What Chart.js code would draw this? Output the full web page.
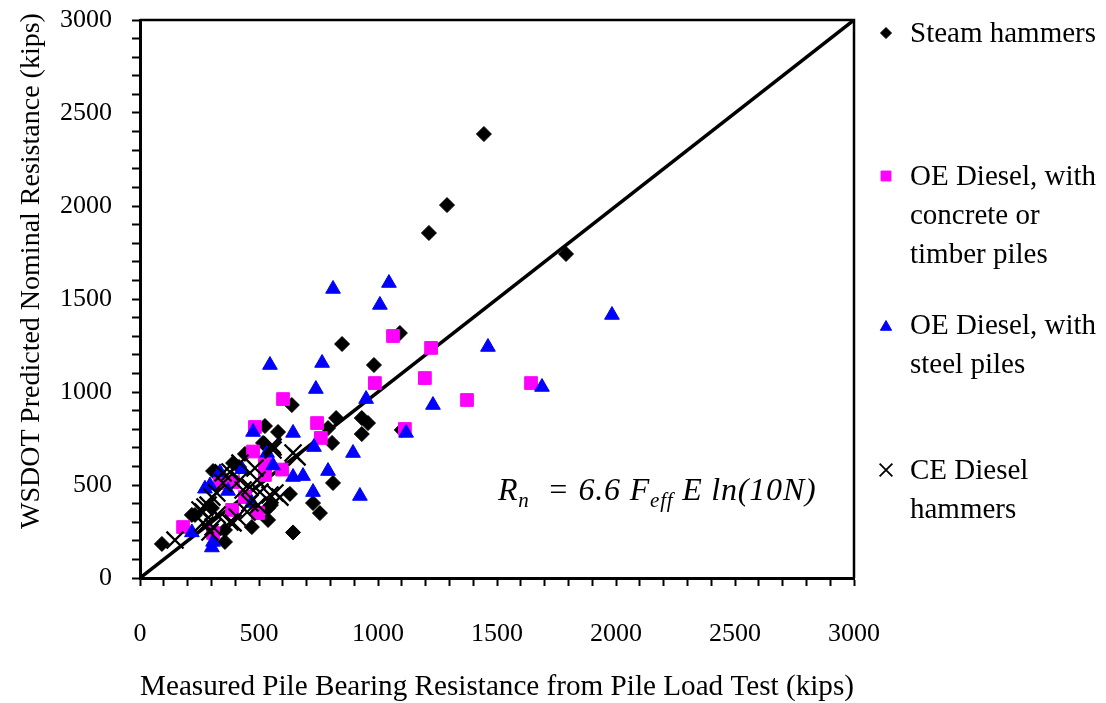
<!DOCTYPE html>
<html>
<head>
<meta charset="utf-8">
<script src="https://cdn.jsdelivr.net/npm/chart.js@4/dist/chart.umd.min.js"></script>
<style>
  body { margin: 0; background: #fff; }
  #wrap { position: relative; width: 1106px; height: 703px; font-family: "Liberation Serif", "Times New Roman", serif; color: #000; }
  #chart { position: absolute; left: 0; top: 0; }
  .lg { position: absolute; left: 910px; font-size: 29px; line-height: 39px; white-space: nowrap; }
  #ytitle { position: absolute; left: -270px; top: 256px; width: 600px; text-align: center; font-size: 28px; line-height: 30px; transform: rotate(-90deg); white-space: nowrap; }
  #eqn { position: absolute; left: 498px; top: 471px; font-size: 32px; letter-spacing: 0.8px; font-style: italic; white-space: nowrap; }
  #eqn sub { font-size: 21px; }
</style>
</head>
<body>
<div id="wrap">
  <canvas id="chart" width="1106" height="703"></canvas>
  <div id="ytitle">WSDOT Predicted Nominal Resistance (kips)</div>
  <div id="eqn">R<sub>n</sub>&nbsp; = 6.6 F<sub>eff</sub> E ln(10N)</div>
  <div class="lg" style="top:13px">Steam hammers</div>
  <div class="lg" style="top:156px">OE Diesel, with<br>concrete or<br>timber piles</div>
  <div class="lg" style="top:305px">OE Diesel, with<br>steel piles</div>
  <div class="lg" style="top:450px">CE Diesel<br>hammers</div>
</div>
<script>
const steamHammers = [
  [1445,2387],[1290,2005],[1214,1855],[1790,1742],[1092,1317],[849,1258],[983,1145],
  [824,860],[790,806],[932,860],[958,833],[807,726],[932,774],[811,511],[727,403],
  [756,349],[1100,796],[638,930],[525,817],[580,785],[517,726],[441,667],[391,618],
  [307,575],[416,597],[357,527],[630,452],[550,392],[538,312],[643,245],[470,274],
  [218,339],[92,183],[357,194],[302,376],[231,339],[357,258],[538,376]
];
const oeConcreteTimber = [
  [1063,1301],[1223,1237],[987,1048],[1197,1075],[1374,957],[1643,1048],[1113,801],
  [744,833],[760,753],[601,962],[483,812],[475,680],[525,608],[597,583],[525,554],
  [391,516],[441,435],[496,349],[387,366],[181,274],[307,242],[336,511]
];
const oeSteel = [
  [811,1554],[1046,1586],[1008,1468],[765,1156],[546,1145],[739,1016],[950,962],
  [1462,1242],[1231,930],[1689,1027],[1983,1414],[1118,780],[731,704],[895,672],
  [685,548],[790,575],[727,462],[924,441],[475,785],[643,780],[559,605],[534,672],
  [643,543],[336,568],[429,585],[273,480],[294,497],[370,468],[470,403],[218,245],
  [307,194],[302,164]
];
const ceDiesel = [
  [147,204],[273,382],[323,457],[378,570],[420,527],[559,704],[660,651],[567,457],
  [492,527],[504,462],[462,403],[408,328],[378,301],[307,274],[265,355],[349,511],
  [450,355],[302,435],[420,618],[462,489],[294,247],[483,591],[555,715],[559,688],
  [643,672],[349,565],[433,473],[546,446],[286,392],[252,366],[324,339],[496,392],
  [265,296],[391,296],[588,435],[273,285]
];
const unityLine = [[0,0],[3000,3000]];
const axisMin = 0, axisMax = 3000, minorStep = 100, labelStep = 500;

const toXY = arr => arr.map(p => ({ x: p[0], y: p[1] }));
const FONT = '"Liberation Serif", "Times New Roman", serif';

// marco superior y derecho + marcadores de la leyenda
const framePlugin = {
  id: 'frame',
  afterDraw(chart) {
    const { ctx, chartArea: a } = chart;
    ctx.save();
    ctx.strokeStyle = '#000';
    ctx.lineWidth = 2.5;
    ctx.beginPath();
    ctx.moveTo(a.left, a.top);
    ctx.lineTo(a.right, a.top);
    ctx.lineTo(a.right, a.bottom);
    ctx.stroke();

    const lx = a.right + 32;
    const marks = [
      { y: 33, style: 'rectRot', r: 5.5, fill: '#000', stroke: '#000', w: 1 },
      { y: 176, style: 'rect', r: 7, fill: '#ff00ff', stroke: '#ff00ff', w: 1 },
      { y: 327, style: 'triangle', r: 6.5, fill: '#0000ff', stroke: '#0000ff', w: 1 },
      { y: 470, style: 'crossRot', r: 9, fill: '#000', stroke: '#000', w: 1.8 }
    ];
    marks.forEach(m => {
      ctx.fillStyle = m.fill;
      ctx.strokeStyle = m.stroke;
      ctx.lineWidth = m.w;
      Chart.helpers.drawPoint(ctx, { pointStyle: m.style, radius: m.r, rotation: 0, borderWidth: m.w }, lx, m.y);
    });
    ctx.restore();
  }
};

const tickCb = v => (v % labelStep === 0 ? String(v) : '');

new Chart(document.getElementById('chart'), {
  type: 'scatter',
  data: {
    datasets: [
      { label: 'CE Diesel hammers', data: toXY(ceDiesel), pointStyle: 'crossRot', pointRadius: 12,
        borderColor: '#000', backgroundColor: '#000', borderWidth: 2.3, order: 1 },
      { label: 'OE Diesel, with steel piles', data: toXY(oeSteel), pointStyle: 'triangle', pointRadius: 8.5,
        borderColor: '#0000ff', backgroundColor: '#0000ff', borderWidth: 1, order: 2 },
      { label: 'OE Diesel, with concrete or timber piles', data: toXY(oeConcreteTimber), pointStyle: 'rect', pointRadius: 9,
        borderColor: '#ff00ff', backgroundColor: '#ff00ff', borderWidth: 1, order: 3 },
      { label: 'Steam hammers', data: toXY(steamHammers), pointStyle: 'rectRot', pointRadius: 7.5,
        borderColor: '#000', backgroundColor: '#000', borderWidth: 1, order: 4 },
      { type: 'line', label: '1:1', data: toXY(unityLine), showLine: true, pointRadius: 0,
        borderColor: '#000', borderWidth: 3.5, order: 5 }
    ]
  },
  options: {
    responsive: false,
    animation: false,
    devicePixelRatio: 1,
    layout: { padding: { left: 10, top: 20, right: 252, bottom: 0 } },
    plugins: { legend: { display: false }, tooltip: { enabled: false } },
    scales: {
      x: {
        type: 'linear', min: axisMin, max: axisMax,
        afterFit: s => { s.height = 125; s.paddingLeft = 0; s.paddingRight = 0; },
        border: { display: true, color: '#000', width: 3 },
        grid: { drawOnChartArea: false, drawTicks: true, tickLength: 8, tickColor: '#000', tickWidth: 2 },
        ticks: { stepSize: minorStep, autoSkip: false, maxRotation: 0, padding: 33, color: '#000',
                 font: { family: FONT, size: 26 }, callback: tickCb },
        title: { display: true, text: 'Measured Pile Bearing Resistance from Pile Load Test (kips)', color: '#000',
                 font: { family: FONT, size: 29.5 }, padding: { top: 0, bottom: -2 } }
      },
      y: {
        type: 'linear', min: axisMin, max: axisMax,
        afterFit: s => { s.width = 130; s.paddingTop = 0; s.paddingBottom = 0; },
        border: { display: true, color: '#000', width: 3 },
        grid: { drawOnChartArea: false, drawTicks: true, tickLength: 8, tickColor: '#000', tickWidth: 2 },
        ticks: { stepSize: minorStep, autoSkip: false, padding: 20, color: '#000',
                 font: { family: FONT, size: 26 }, callback: tickCb }
      }
    }
  },
  plugins: [framePlugin]
});
</script>
</body>
</html>
